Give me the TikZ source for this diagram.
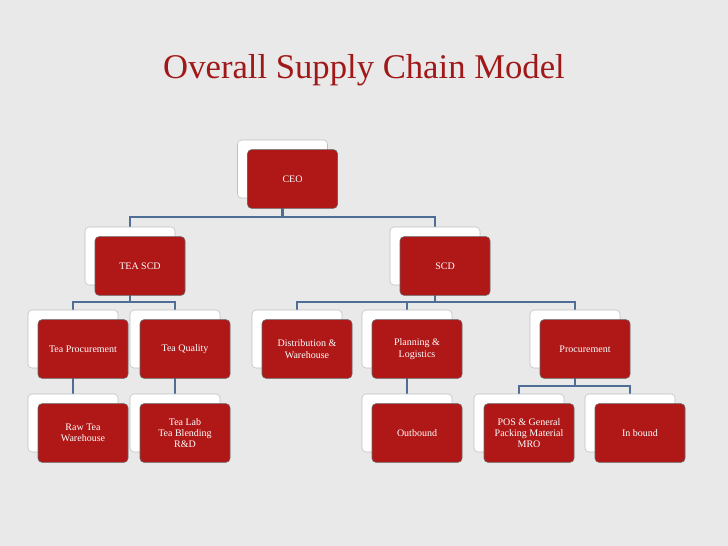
\documentclass[tikz,border=0pt]{standalone}
\usepackage{fontspec}
\setmainfont{Liberation Serif}
\usetikzlibrary{positioning,calc}
\definecolor{boxred}{HTML}{B01717}
\definecolor{linkblue}{HTML}{4E6E96}
\definecolor{titlered}{HTML}{A01818}
\definecolor{slidegray}{HTML}{E9E9E9}
\tikzset{
  backcard/.style={draw=black!25,fill=white,rounded corners=3pt,minimum width=67.5pt,minimum height=43.5pt,inner sep=0pt},
  frontcard/.style={draw=black!60,fill=boxred,rounded corners=3pt,minimum width=67.5pt,minimum height=44pt,
    text=white,font=\fontsize{7.5}{8.5}\selectfont,align=center,inner sep=1pt},
  link/.style={draw=linkblue,line width=1.6pt}
}
% one card: white card behind, red card in front
\newcommand{\orgcard}[4]{%
  \node[backcard] (#1) at (#2,#3) {};
  \node[frontcard] (#1r) at ($(#1)+(10,10)$) {#4};}
\begin{document}
\begin{tikzpicture}[x=0.75pt,y=-0.75pt]
  \fill[slidegray] (0,0) rectangle (728,546);
  \node[text=titlered,font=\fontsize{26}{30}\selectfont] (title) at (364,70) {Overall Supply Chain Model};
  % bus lines
  \coordinate (busA) at (0,217);
  \coordinate (busB) at (0,302);
  \coordinate (busC) at (0,386);
  % connectors first, cards on top
  \path (282.5,169) coordinate (ceoc) (130,256) coordinate (teac) (435,256) coordinate (scdc)
        (73,339) coordinate (procc) (175,339) coordinate (qualc)
        (297,339) coordinate (distc) (407,339) coordinate (planc) (575,339) coordinate (pcurc)
        (73,423) coordinate (rawc) (175,423) coordinate (labc) (407,423) coordinate (outc)
        (519,423) coordinate (posc) (630,423) coordinate (inbc);
  \draw[link] (ceoc) -- (ceoc |- busA) -| (teac);
  \draw[link] (ceoc |- busA) -| (scdc);
  \draw[link] (teac) -- (teac |- busB) -| (procc);
  \draw[link] (teac |- busB) -| (qualc);
  \draw[link] (scdc) -- (scdc |- busB) -| (distc);
  \draw[link] (scdc |- busB) -| (planc);
  \draw[link] (scdc |- busB) -| (pcurc);
  \draw[link] (procc) -- (rawc);
  \draw[link] (qualc) -- (labc);
  \draw[link] (planc) -- (outc);
  \draw[link] (pcurc) -- (pcurc |- busC) -| (posc);
  \draw[link] (pcurc |- busC) -| (inbc);
  % cards
  \orgcard{ceo}{282.5}{169}{CEO}
  \orgcard{teascd}{130}{256}{TEA SCD}
  \orgcard{scd}{435}{256}{SCD}
  \orgcard{teaproc}{73}{339}{Tea Procurement}
  \orgcard{teaqual}{175}{339}{Tea Quality}
  \orgcard{distrib}{297}{339}{Distribution \&\\ Warehouse}
  \orgcard{planning}{407}{339}{Planning \&\\ Logistics}
  \orgcard{procure}{575}{339}{Procurement}
  \orgcard{rawtea}{73}{423}{Raw Tea\\ Warehouse}
  \orgcard{tealab}{175}{423}{Tea Lab\\ Tea Blending\\ R\&D}
  \orgcard{outbound}{407}{423}{Outbound}
  \orgcard{posgen}{519}{423}{POS \& General\\ Packing Material\\ MRO}
  \orgcard{inbound}{630}{423}{In bound}
\end{tikzpicture}
\end{document}
